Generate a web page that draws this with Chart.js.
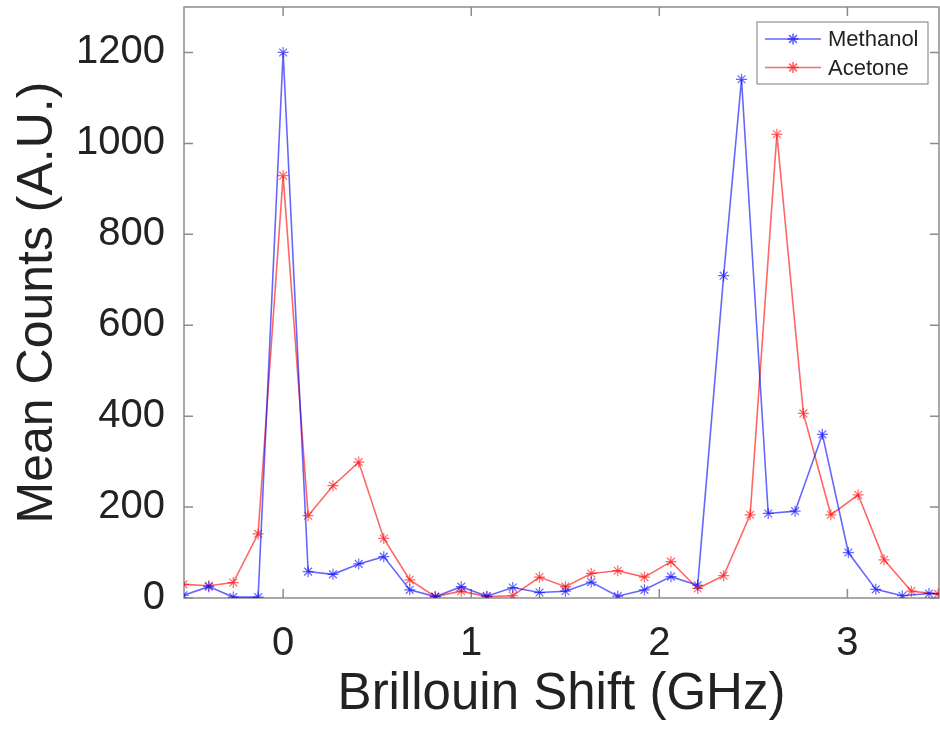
<!DOCTYPE html>
<html>
<head>
<meta charset="utf-8">
<script src="https://cdn.jsdelivr.net/npm/chart.js@4.4.1/dist/chart.umd.min.js"></script>
<style>
html,body{margin:0;padding:0;background:#fff;overflow:hidden;}
</style>
</head>
<body>
<canvas id="Chart" width="940" height="730"></canvas>
<script>
// values
const shiftMethanol = [-0.53, -0.395, -0.265, -0.133, 0, 0.133, 0.265, 0.402, 0.535, 0.673, 0.809, 0.947, 1.083, 1.221, 1.363, 1.501, 1.638, 1.779, 1.921, 2.062, 2.204, 2.342, 2.437, 2.579, 2.722, 2.867, 3.005, 3.151, 3.292, 3.434, 3.575];
const countsMethanol = [6, 25, 2, 2, 1200, 58, 52, 75, 91, 18, 3, 25, 4, 23, 12, 15, 35, 4, 18, 47, 28, 709, 1141, 186, 191, 360, 100, 19, 5, 10, 8];
const shiftAcetone = [-0.53, -0.395, -0.265, -0.133, 0, 0.133, 0.265, 0.402, 0.535, 0.673, 0.809, 0.947, 1.083, 1.221, 1.363, 1.501, 1.638, 1.779, 1.921, 2.062, 2.204, 2.342, 2.483, 2.625, 2.766, 2.912, 3.057, 3.195, 3.340, 3.482];
const countsAcetone = [30, 27, 34, 141, 929, 181, 247, 299, 131, 40, 3, 15, 3, 5, 46, 25, 54, 60, 46, 80, 21, 49, 183, 1020, 406, 183, 227, 84, 15, 9];
const seriesNames = ['Methanol', 'Acetone'];
const xTicks = [0, 1, 2, 3];
const yTicks = [0, 200, 400, 600, 800, 1000, 1200];

const blue = 'rgba(0, 0, 255, 0.6)';
const red = 'rgba(255, 0, 0, 0.6)';
const axisGrey = '#8c8c8c';
const fontFam = '"Liberation Sans", Arial, sans-serif';

const ctx = document.getElementById('Chart');

// box around the axes with inward ticks on all four sides
const frame = {
    id: 'frame',
    beforeDatasetsDraw(chart) {
        const {ctx, chartArea: a, scales} = chart;
        ctx.save();
        ctx.strokeStyle = axisGrey;
        ctx.lineWidth = 1.5;
        ctx.strokeRect(a.left, a.top, a.right - a.left, a.bottom - a.top);
        ctx.beginPath();
        xTicks.forEach(v => {
            const px = scales.x.getPixelForValue(v);
            ctx.moveTo(px, a.bottom); ctx.lineTo(px, a.bottom - 9);
            ctx.moveTo(px, a.top); ctx.lineTo(px, a.top + 9);
        });
        yTicks.forEach(v => {
            const py = scales.y.getPixelForValue(v);
            ctx.moveTo(a.left, py); ctx.lineTo(a.left + 9, py);
            ctx.moveTo(a.right, py); ctx.lineTo(a.right - 9, py);
        });
        ctx.stroke();
        ctx.restore();
    }
};

// legend box in the upper right corner
const legendBox = {
    id: 'legendBox',
    afterDraw(chart) {
        const {ctx, chartArea: a} = chart;
        const w = 171, h = 62;
        const left = a.right - 11 - w, top = a.top + 15;
        ctx.save();
        ctx.fillStyle = '#fff';
        ctx.fillRect(left, top, w, h);
        ctx.strokeStyle = '#7a7a7a';
        ctx.lineWidth = 1;
        ctx.strokeRect(left, top, w, h);
        chart.data.datasets.forEach((ds, i) => {
            const y = top + 17 + i * 28.5;
            ctx.strokeStyle = ds.borderColor;
            ctx.lineWidth = 1.6;
            ctx.beginPath();
            ctx.moveTo(left + 8, y);
            ctx.lineTo(left + 64, y);
            ctx.stroke();
            Chart.helpers.drawPoint(ctx, {pointStyle: 'star', radius: 5.5, borderWidth: 1.2}, left + 36, y);
            ctx.fillStyle = '#222';
            ctx.font = '22px ' + fontFam;
            ctx.textBaseline = 'middle';
            ctx.fillText(ds.label, left + 71, y + 1);
        });
        ctx.restore();
    }
};

function makeSet(name, xs, ys, color) {
    return {
        label: name,
        data: xs.map((x, i) => ({x: x, y: ys[i]})),
        borderColor: color,
        backgroundColor: color,
        borderWidth: 1.6,
        pointStyle: 'star',
        pointRadius: 5.5,
        pointBorderWidth: 1.2,
        pointBorderColor: color,
        tension: 0
    };
}

new Chart(ctx, {
    type: 'line',
    data: {
        datasets: [
            makeSet(seriesNames[0], shiftMethanol, countsMethanol, blue),
            makeSet(seriesNames[1], shiftAcetone, countsAcetone, red)
        ]
    },
    options: {
        responsive: false,
        animation: false,
        layout: {autoPadding: false, padding: {left: 0, right: 1, top: 7, bottom: 0}},
        plugins: {
            legend: {display: false},
            tooltip: {enabled: false}
        },
        scales: {
            x: {
                type: 'linear',
                min: -0.527,
                max: 3.487,
                afterBuildTicks: s => { s.ticks = xTicks.map(v => ({value: v})); },
                afterFit: s => { s.height = 132; s.paddingLeft = 0; s.paddingRight = 0; },
                grid: {display: false, drawTicks: false},
                border: {display: false},
                ticks: {
                    color: '#222',
                    padding: 22,
                    callback: v => String(v),
                    font: {family: fontFam, size: 40}
                },
                title: {
                    display: true,
                    text: 'Brillouin Shift (GHz)',
                    color: '#222',
                    padding: {top: 0, bottom: 4},
                    font: {family: fontFam, size: 51}
                }
            },
            y: {
                type: 'linear',
                min: 0,
                max: 1300,
                afterBuildTicks: s => { s.ticks = yTicks.map(v => ({value: v})); },
                afterFit: s => { s.width = 184; s.paddingTop = 0; s.paddingBottom = 0; },
                grid: {display: false, drawTicks: false},
                border: {display: false},
                ticks: {
                    color: '#222',
                    padding: 19,
                    callback: v => String(v),
                    font: {family: fontFam, size: 40}
                },
                title: {
                    display: true,
                    text: 'Mean Counts (A.U.)',
                    color: '#222',
                    padding: {top: 8, bottom: 0},
                    font: {family: fontFam, size: 50}
                }
            }
        }
    },
    plugins: [frame, legendBox]
});
</script>
</body>
</html>
